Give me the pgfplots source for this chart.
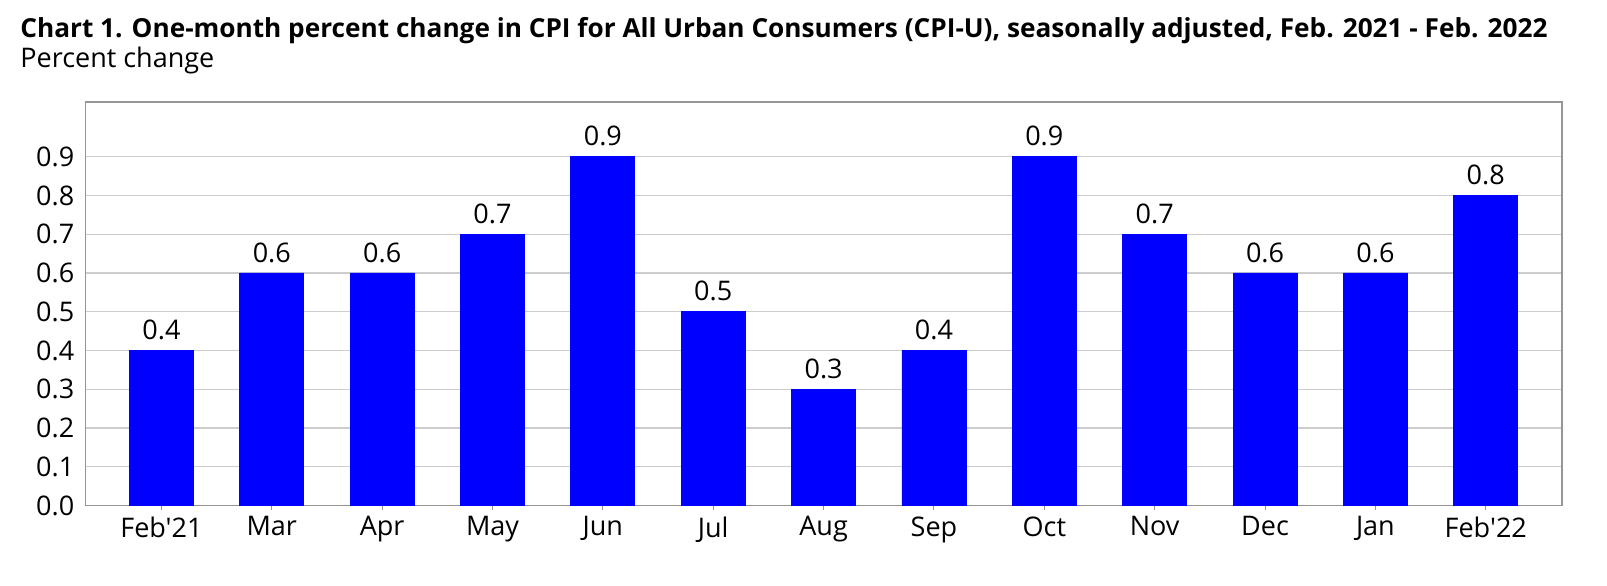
\documentclass[border=0pt]{standalone}
\usepackage{fontspec}
\setmainfont{Open Sans}[Ligatures=TeXOff]
\usepackage{pgfplots}
\pgfplotsset{compat=1.18}
\definecolor{barblue}{RGB}{0,0,255}
\definecolor{gridgray}{RGB}{205,205,205}
\definecolor{axisgray}{RGB}{150,150,150}
\begin{document}
\begin{tikzpicture}
\useasboundingbox (0,0) rectangle (803.5pt,292.5pt);
\node[anchor=base west,inner sep=0,font=\bfseries\fontsize{13.1}{15}\selectfont] at (10pt,273.8pt)
  {Chart 1. One-month percent change in CPI for All Urban Consumers (CPI-U), seasonally adjusted, Feb. 2021 - Feb. 2022};
\node[anchor=base west,inner sep=0,font=\fontsize{13.5}{15}\selectfont] at (10pt,258.7pt) {Percent change};
\begin{axis}[
  at={(42.65pt,39.75pt)}, anchor=south west,
  scale only axis, width=738.3pt, height=201.9pt,
  xmin=-0.69, xmax=12.69, ymin=0, ymax=1.042,
  ybar, bar width=0.58,
  xtick={0,...,12}, xtick pos=bottom,
  xticklabels={Feb'21,Mar,Apr,May,Jun,Jul,Aug,Sep,Oct,Nov,Dec,Jan,Feb'22},
  ytick={0,0.1,0.2,0.3,0.4,0.5,0.6,0.7,0.8,0.9},
  /pgf/number format/fixed, /pgf/number format/fixed zerofill,
  /pgf/number format/precision=1, /pgf/number format/assume math mode=true,
  tick label style={font=\fontsize{13.5}{16}\selectfont},
  ymajorgrids, grid style={gridgray,line width=0.6pt},
  axis line style={axisgray,line width=0.8pt},
  ytick style={draw=none},
  xtick style={axisgray,line width=0.5pt},
  tick align=outside, major tick length=2pt,
  nodes near coords,
  every node near coord/.append style={fill=white,inner xsep=4pt,inner ysep=2pt,
    font=\fontsize{13.5}{16}\selectfont,anchor=south,yshift=3pt},
]
\addplot[fill=barblue,draw=barblue] coordinates {
  (0,0.4) (1,0.6) (2,0.6) (3,0.7) (4,0.9) (5,0.5) (6,0.3)
  (7,0.4) (8,0.9) (9,0.7) (10,0.6) (11,0.6) (12,0.8)};
\end{axis}
\end{tikzpicture}
\end{document}
